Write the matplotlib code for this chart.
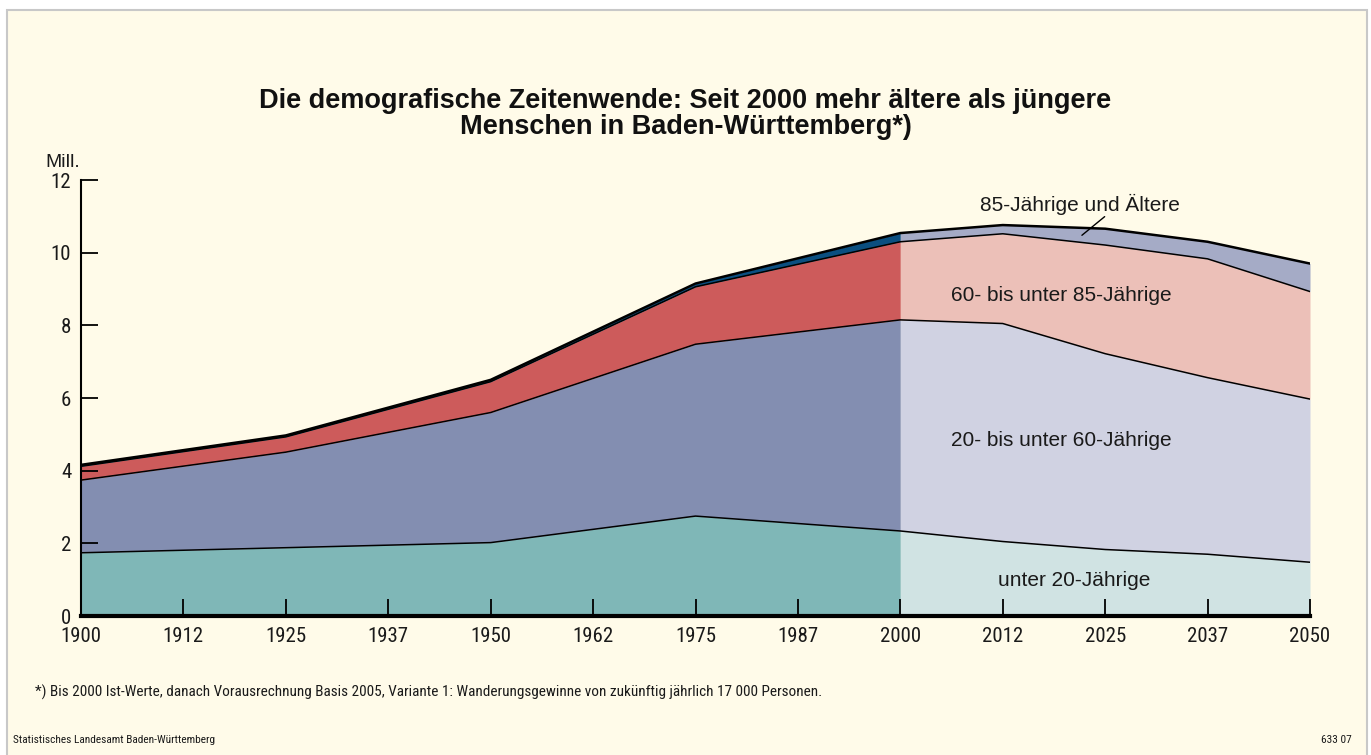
import numpy as np
import matplotlib
matplotlib.use("Agg")
import matplotlib.pyplot as plt
from matplotlib.patches import Rectangle

# x positions: 1900 .. 2050 in 12.5-year steps (tick labels rounded down)
years = [1900, 1925, 1950, 1975, 2000, 2012.5, 2025, 2037.5, 2050]
tick_pos = [1900 + 12.5 * i for i in range(13)]
tick_labels = ["1900", "1912", "1925", "1937", "1950", "1962", "1975",
               "1987", "2000", "2012", "2025", "2037", "2050"]

# population in millions per age group
under20 = [1.74, 1.88, 2.02, 2.75, 2.34, 2.05, 1.83, 1.70, 1.48]
age20_60 = [2.00, 2.63, 3.58, 4.73, 5.81, 6.00, 5.39, 4.86, 4.49]
age60_85 = [0.38, 0.42, 0.85, 1.58, 2.15, 2.47, 2.99, 3.27, 2.96]
age85plus = [0.04, 0.04, 0.05, 0.09, 0.24, 0.24, 0.45, 0.47, 0.77]

groups = [under20, age20_60, age60_85, age85plus]
past_colors = ["#7fb7b7", "#838eb1", "#cd5b5b", "#0b4f80"]
future_colors = ["#d0e3e3", "#d0d2e2", "#ecc0b8", "#a5abc6"]

BG = "#fffbe9"
narrow = ["Roboto Condensed", "Archivo Narrow", "PT Sans Narrow", "Liberation Sans"]
regular = ["Liberation Sans", "DejaVu Sans"]

fig = plt.figure(figsize=(13.71, 7.55), dpi=100, facecolor="white")
fig.patches.append(Rectangle((7 / 1371, -0.05), 1360 / 1371, 1.05 - 10 / 755,
                             transform=fig.transFigure, facecolor=BG,
                             edgecolor="#c8c8c8", linewidth=1.5, zorder=-1))

ax = fig.add_axes([81 / 1371, 1 - 616 / 755, 1229 / 1371, 436 / 755])
ax.set_facecolor("none")

x = np.array(years)
tops = np.cumsum(np.array(groups), axis=0)
bottoms = np.vstack([np.zeros(len(x)), tops[:-1]])
past = x <= 2000
future = x >= 2000

for i in range(len(groups)):
    ax.fill_between(x, bottoms[i], tops[i], where=past, color=past_colors[i],
                    linewidth=0)
    ax.fill_between(x, bottoms[i], tops[i], where=future, color=future_colors[i],
                    linewidth=0)

for i in range(len(groups) - 1):
    ax.plot(x, tops[i], color="black", linewidth=1.1)
ax.plot(x, tops[-1], color="black", linewidth=1.8)

ax.set_xlim(1900, 2050)
ax.set_ylim(0, 12)
ax.set_xticks(tick_pos)
ax.set_xticklabels(tick_labels)
ax.set_yticks(range(0, 13, 2))
for s in ["top", "right"]:
    ax.spines[s].set_visible(False)
ax.spines["left"].set_linewidth(1.5)
ax.spines["bottom"].set_linewidth(3)
ax.spines["bottom"].set_zorder(5)
ax.tick_params(axis="both", direction="in", length=12, width=1.3, color="black",
               labelsize=15, labelcolor="#1a1a1a")
ax.tick_params(axis="x", pad=8)
ax.tick_params(axis="y", pad=7)
for lab in ax.get_xticklabels() + ax.get_yticklabels():
    lab.set_family(narrow)

ax.text(-0.029, 1.02, "Mill.", transform=ax.transAxes, fontsize=14,
        family=regular, color="#1a1a1a", va="bottom")

# area labels
lab_kw = dict(fontsize=15, family=regular, color="#1a1a1a", ha="center", va="center")
ax.text(2021.9, 11.32, "85-Jährige und Ältere", **lab_kw)
ax.annotate("", xy=(2021.9, 10.43), xytext=(2025.2, 11.04),
            arrowprops=dict(arrowstyle="-", color="black", lw=1))
ax.text(2019.6, 8.82, "60- bis unter 85-Jährige", **lab_kw)
ax.text(2019.6, 4.82, "20- bis unter 60-Jährige", **lab_kw)
ax.text(2021.2, 0.99, "unter 20-Jährige", **lab_kw)

fig.text(0.5, 1 - 114 / 755,
         "Die demografische Zeitenwende: Seit 2000 mehr ältere als jüngere\n"
         "Menschen in Baden-Württemberg*)",
         ha="center", va="center", fontsize=19.5, fontweight="bold",
         family=regular, linespacing=0.95, color="#111111")

fig.text(35 / 1371, 1 - 692 / 755,
         "*) Bis 2000 Ist-Werte, danach Vorausrechnung Basis 2005, Variante 1: "
         "Wanderungsgewinne von zukünftig jährlich 17 000 Personen.",
         ha="left", va="center", fontsize=11, family=narrow, color="#1a1a1a")
fig.text(13 / 1371, 1 - 740 / 755, "Statistisches Landesamt Baden-Württemberg",
         ha="left", va="center", fontsize=8.2, family=narrow, color="#1a1a1a")
fig.text(1352 / 1371, 1 - 740 / 755, "633 07",
         ha="right", va="center", fontsize=8.2, family=narrow, color="#1a1a1a")

fig.savefig("out.png", dpi=100, facecolor="white")
